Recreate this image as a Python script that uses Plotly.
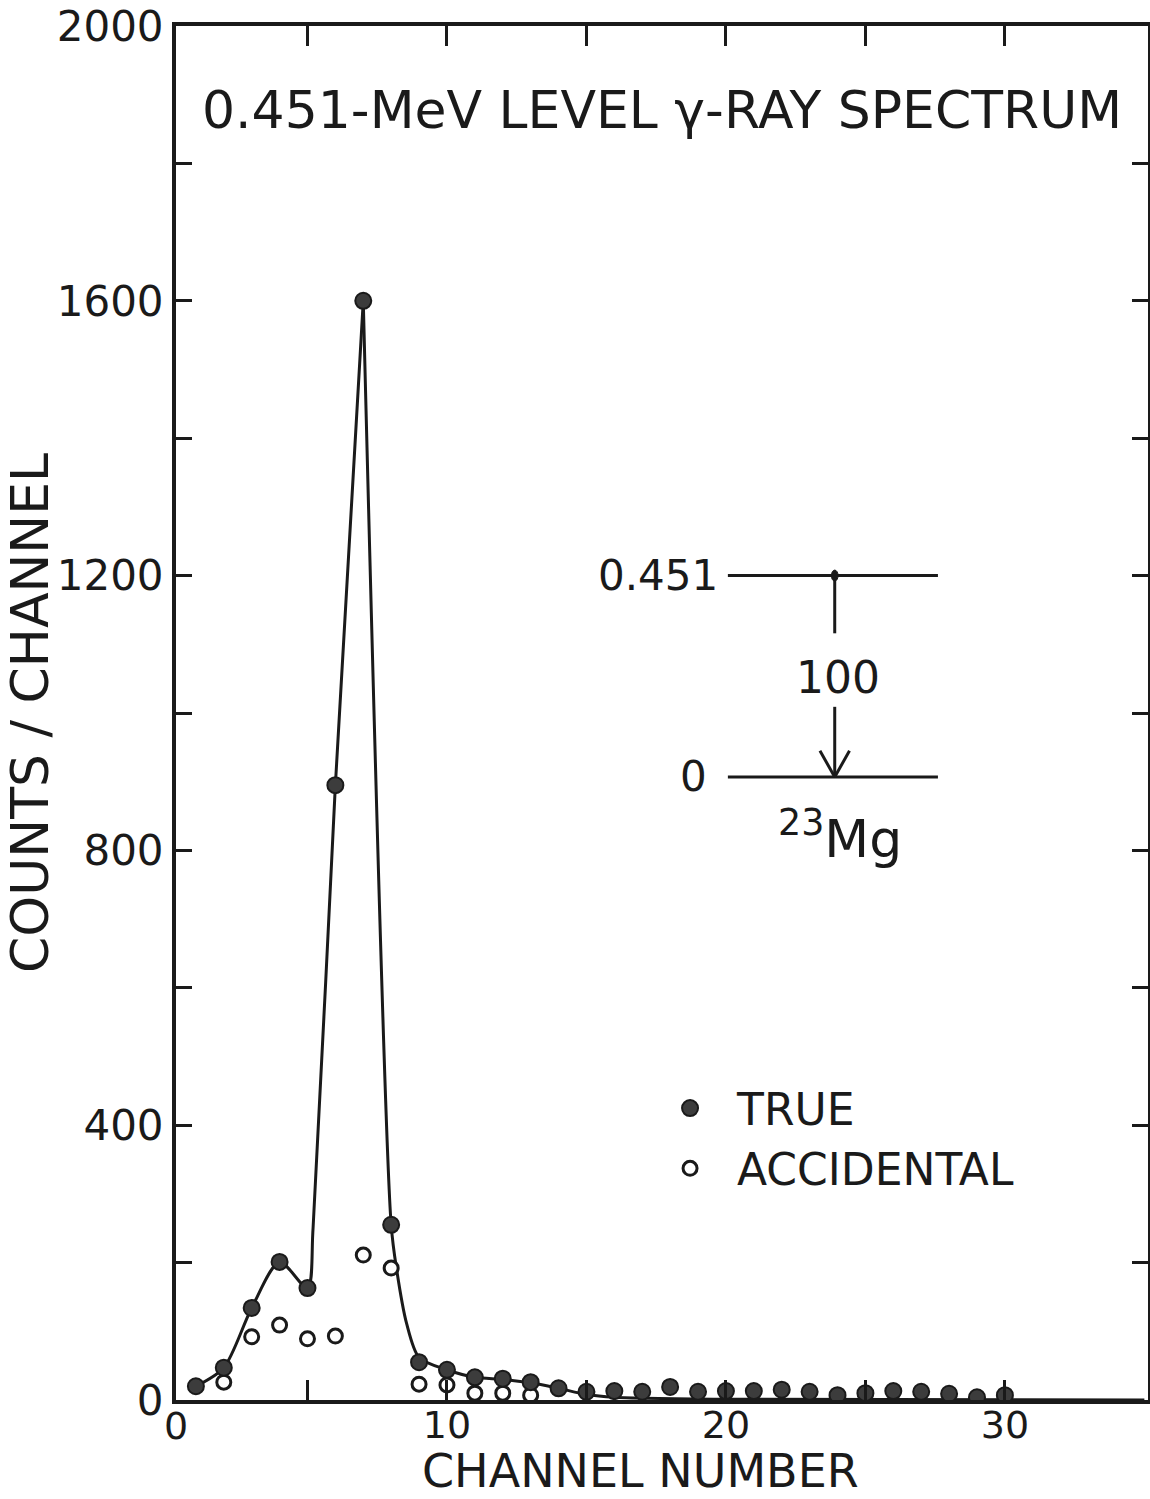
import plotly.graph_objects as go

# ---------------- data ----------------
channels = list(range(1, 31))
true_counts = [20, 47, 134, 201, 163, 895, 1600, 255, 55, 44,
               33, 31, 26, 17, 12, 13, 12, 19, 12, 13,
               13, 15, 12, 7, 10, 13, 12, 9, 4, 7]

acc_channels = list(range(2, 14))
acc_counts = [26, 92, 109, 89, 93, 211, 192, 23, 22, 10, 10, 7]

# hand-drawn fit curve, split at the sharp peak
fit_left_x = [1, 2, 3, 4, 5, 5.2, 6, 7]
fit_left_y = [20, 47, 134, 201, 163, 250, 895, 1600]
fit_right_x = [7, 8, 8.2, 8.55, 9, 10, 11, 12, 13, 14, 15, 16, 20, 35]
fit_right_y = [1600, 255, 189, 112, 62, 44, 33, 30, 25, 17, 8, 4, 1, 0]

x_tick_vals = [5, 10, 15, 20, 25, 30]
x_tick_text = ["", "10", "", "20", "", "30"]
y_tick_vals = list(range(0, 2001, 200))
y_tick_text = [str(v) if v % 400 == 0 else "" for v in y_tick_vals]

X_RANGE = [0.287, 35.13]

FONT = "DejaVu Sans"
INK = "#1a1a1a"

fig = go.Figure()
fig.add_trace(go.Scatter(x=fit_left_x, y=fit_left_y, mode="lines",
                         line=dict(color=INK, width=3, shape="spline", smoothing=0.8),
                         showlegend=False, hoverinfo="skip"))
fig.add_trace(go.Scatter(x=fit_right_x, y=fit_right_y, mode="lines",
                         line=dict(color=INK, width=3, shape="spline", smoothing=0.8),
                         showlegend=False, hoverinfo="skip"))
fig.add_trace(go.Scatter(x=acc_channels, y=acc_counts, mode="markers", name="ACCIDENTAL",
                         marker=dict(symbol="circle", size=14, color="white",
                                     line=dict(color=INK, width=3))))
fig.add_trace(go.Scatter(x=channels, y=true_counts, mode="markers", name="TRUE",
                         marker=dict(symbol="circle", size=16, color="#3c3c3c",
                                     line=dict(color=INK, width=2))))

# level scheme (decoration)
lw = dict(color=INK, width=3)
shapes = [
    dict(type="line", x0=20.07, x1=27.6, y0=1200, y1=1200, line=lw),
    dict(type="line", x0=20.07, x1=27.6, y0=907, y1=907, line=lw),
    dict(type="line", x0=23.9, x1=23.9, y0=1200, y1=1116, line=lw),
    dict(type="line", x0=23.9, x1=23.9, y0=1009, y1=907, line=lw),
    dict(type="line", x0=23.37, x1=23.9, y0=945, y1=907, line=lw),
    dict(type="line", x0=24.43, x1=23.9, y0=945, y1=907, line=lw),
    dict(type="circle", x0=23.78, x1=24.02, y0=1192, y1=1208, fillcolor=INK, line=dict(color=INK, width=1)),
]

ann_font = dict(family=FONT, size=42, color=INK)
zero_x_paper = (0 - X_RANGE[0]) / (X_RANGE[1] - X_RANGE[0])
annotations = [
    dict(text="0.451-MeV LEVEL γ-RAY SPECTRUM", x=0.5, y=(1400 - 110) / 1374, xref="paper", yref="paper",
         showarrow=False, font=dict(family=FONT, size=52, color=INK), xanchor="center", yanchor="middle"),
    dict(text="0.451", x=19.8, y=1200, xref="x", yref="y", showarrow=False, font=ann_font,
         xanchor="right", yanchor="middle"),
    dict(text="100", x=24.0, y=1052, xref="x", yref="y", showarrow=False,
         font=dict(family=FONT, size=44, color=INK), xanchor="center", yanchor="middle"),
    dict(text="0", x=19.4, y=907, xref="x", yref="y", showarrow=False, font=ann_font,
         xanchor="right", yanchor="middle"),
    dict(text="<sup>23</sup>Mg", x=24.1, y=822, xref="x", yref="y", showarrow=False,
         font=dict(family=FONT, size=52, color=INK), xanchor="center", yanchor="middle"),
    dict(text="0", x=zero_x_paper, y=0, xref="paper", yref="paper", showarrow=False,
         font=dict(family=FONT, size=38, color=INK), xanchor="center", yanchor="top",
         xshift=8, yshift=-2),
    dict(text="CHANNEL NUMBER", x=(640 - 176) / 972, y=(1400 - 1499) / 1374, xref="paper", yref="paper",
         showarrow=False, font=dict(family=FONT, size=46, color=INK), xanchor="center", yanchor="bottom",
         borderpad=0),
]

fig.update_layout(
    width=1150, height=1499,
    margin=dict(l=176, r=2, t=26, b=99),
    paper_bgcolor="white", plot_bgcolor="white",
    font=dict(family=FONT, color=INK),
    shapes=shapes, annotations=annotations,
    legend=dict(x=0.4805, y=0.238, xanchor="left", yanchor="top",
                font=dict(family=FONT, size=44, color=INK),
                traceorder="reversed", itemwidth=84, bgcolor="rgba(0,0,0,0)",
                tracegroupgap=0),
)
fig.update_xaxes(range=X_RANGE, showgrid=False, zeroline=False, automargin=False,
                 showline=True, linecolor=INK, linewidth=4, mirror="ticks",
                 ticks="inside", ticklen=20, tickwidth=3, tickcolor=INK,
                 tickvals=x_tick_vals, ticktext=x_tick_text, ticklabelstandoff=-12,
                 tickfont=dict(family=FONT, size=38, color=INK))
fig.update_yaxes(range=[0, 2000], showgrid=False, zeroline=False, automargin=False,
                 showline=True, linecolor=INK, linewidth=4, mirror="ticks",
                 ticks="inside", ticklen=16, tickwidth=3, tickcolor=INK,
                 tickvals=y_tick_vals, ticktext=y_tick_text,
                 tickfont=dict(family=FONT, size=42, color=INK),
                 title=dict(text="COUNTS / CHANNEL", font=dict(family=FONT, size=52, color=INK), standoff=14))

fig.write_html("out.html")
